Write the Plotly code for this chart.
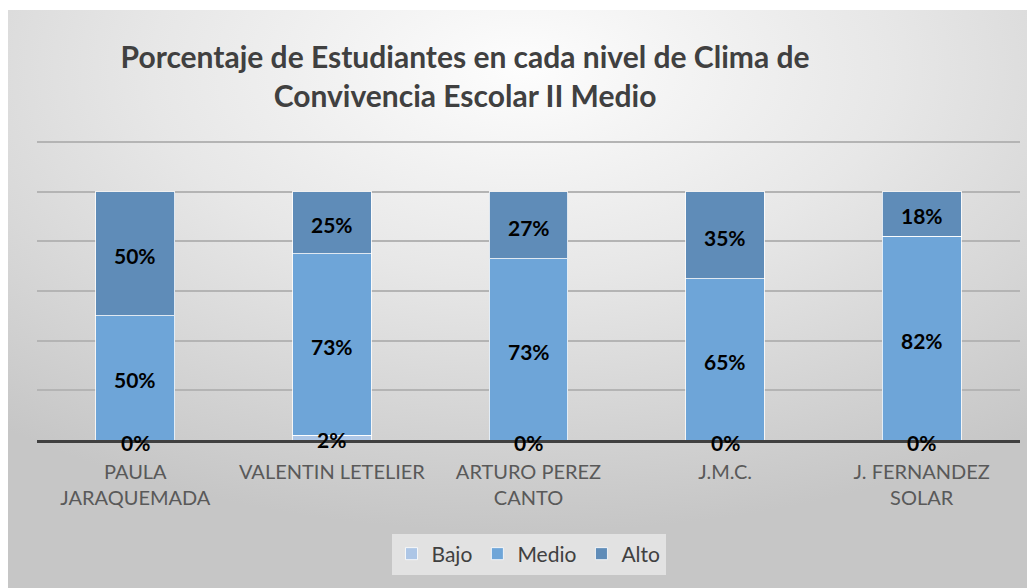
import base64
import plotly.graph_objects as go

categories = ["PAULA<br>JARAQUEMADA", "VALENTIN LETELIER", "ARTURO PEREZ<br>CANTO", "J.M.C.", "J. FERNANDEZ<br>SOLAR"]
bajo = [0, 2, 0, 0, 0]
medio = [50, 73, 73, 65, 82]
alto = [50, 25, 27, 35, 18]
series = [("Bajo", bajo, "#adc6e6"), ("Medio", medio, "#6ea5d8"), ("Alto", alto, "#5f8cb8")]
title = "Porcentaje de Estudiantes en cada nivel de Clima de<br>Convivencia Escolar II Medio"

W, H = 1027, 580
L, R, T, B = 29, 15, 129, 148
pw, ph = W - L - R, H - T - B
axis_y = H - B

svg = ('<svg xmlns="http://www.w3.org/2000/svg" width="1028" height="578" viewBox="0 0 1028 578" preserveAspectRatio="none">'
       '<defs><radialGradient id="g" cx="0.5" cy="0.1" r="0.8">'
       '<stop offset="0" stop-color="#fdfdfd"/><stop offset="0.45" stop-color="#e7e7e7"/>'
       '<stop offset="1" stop-color="#c6c6c6"/></radialGradient></defs>'
       '<rect width="1028" height="578" fill="url(#g)"/></svg>')
src = "data:image/svg+xml;base64," + base64.b64encode(svg.encode()).decode()

fig = go.Figure()
for name, vals, col in series:
    fig.add_trace(go.Bar(x=categories, y=[v / 100 for v in vals], name=name,
                         marker=dict(color=col, line=dict(color="rgba(255,255,255,0.8)", width=1)),
                         hoverinfo="skip"))

# data labels at segment midpoints
for i, c in enumerate(categories):
    base = 0
    for name, vals, col in series:
        v = vals[i] / 100
        fig.add_annotation(x=c, y=base + v / 2, text=f"<b>{vals[i]}%</b>", showarrow=False,
                           yshift=-2, font=dict(family="Lato", size=21, color="#000000"))
        base += v

fig.add_layout_image(dict(source=src, xref="paper", yref="paper",
                          x=(-1 - L) / pw, y=(axis_y - 2) / ph, sizex=1030 / pw, sizey=580 / ph,
                          xanchor="left", yanchor="top", sizing="stretch", layer="below"))

fig.update_layout(
    width=W, height=H,
    margin=dict(l=L, r=R, t=T, b=B),
    barmode="stack", bargap=0.6,
    paper_bgcolor="white", plot_bgcolor="rgba(0,0,0,0)",
    font=dict(family="Lato", color="#595959"),
    title=dict(text=f"<b>{title}</b>", x=457 / W, xanchor="center", y=1 - 60 / H, yanchor="middle",
               font=dict(family="Lato", size=30, color="#404040")),
    legend=dict(orientation="h", x=0.5, xanchor="center", y=(axis_y - 546) / ph, yanchor="middle",
                bgcolor="#e2e2e2", font=dict(size=21, color="#404040"), traceorder="normal",
                itemwidth=30),
    xaxis=dict(showline=True, linecolor="#404040", linewidth=3, tickfont=dict(size=20, color="#595959"),
               showgrid=False, ticks="", ticklabelstandoff=12, layer="below traces"),
    yaxis=dict(range=[0, 1.22], dtick=0.2, showticklabels=False, showgrid=True, gridcolor="#b4b4b4",
               gridwidth=1.5, zeroline=False, layer="below traces"),
)
fig.write_html("out.html")
